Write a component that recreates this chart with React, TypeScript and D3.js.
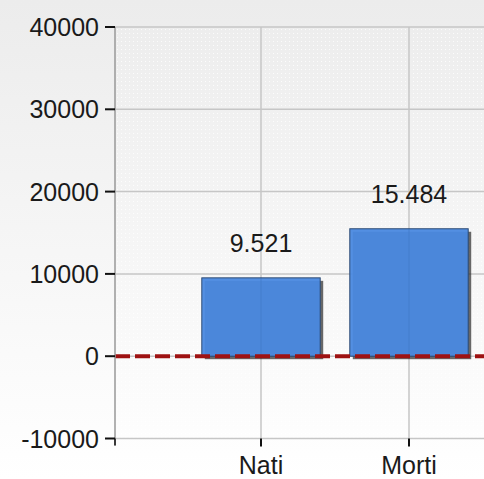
import React from 'react'
import * as d3 from 'd3'

const categories = ['Nati', 'Morti']
const values = [9521, 15484]
const yTicks = [-10000, 0, 10000, 20000, 30000, 40000]

const WIDTH = 484
const HEIGHT = 479

const itLocale = d3.formatLocale({ decimal: ',', thousands: '.', grouping: [3], currency: ['€', ''] })
const formatValue = itLocale.format(',d')

const FONT = '"Liberation Sans", Arial, sans-serif'

export default function App () {
    const y = d3.scaleLinear().domain([-10000, 40000]).range([438.5, 27])
    const x = d3.scaleBand<string>()
        .domain(categories)
        .range([187, 483])
        .paddingInner(0.2)
        .paddingOuter(0.1)

    const left = 115
    const top = y(40000)
    const bottom = y(-10000)
    const zero = y(0)
    const center = (c: string) => (x(c) as number) + x.bandwidth() / 2

    return (
        <svg
            width={WIDTH}
            height={HEIGHT}
            style={{ position: 'absolute', left: 0, top: 0, display: 'block' }}
            fontFamily={FONT}
        >
            <defs>
                <linearGradient id='bg' x1='0' y1='0' x2='0' y2='1'>
                    <stop offset='0' stopColor='#ececec' />
                    <stop offset='1' stopColor='#ffffff' />
                </linearGradient>
                <pattern id='dots' width='4' height='4' patternUnits='userSpaceOnUse'>
                    <rect x='1' y='1' width='1' height='1' fill='#ffffff' opacity='0.8' />
                </pattern>
            </defs>
            <rect width={WIDTH} height={HEIGHT} fill='url(#bg)' />
            <rect x={left} y={top} width={WIDTH - left} height={bottom - top} fill='url(#dots)' />

            {/* horizontal grid */}
            {yTicks.map(t => (
                <line key={'h' + t} x1={left} x2={WIDTH} y1={y(t)} y2={y(t)} stroke='#c6c6c6' strokeWidth={1.5} />
            ))}
            {/* vertical grid */}
            {categories.map(c => (
                <line key={'v' + c} x1={center(c)} x2={center(c)} y1={top} y2={bottom} stroke='#c6c6c6' strokeWidth={1.5} />
            ))}

            {/* bars */}
            {categories.map((c, i) => {
                const bx = x(c) as number
                const by = y(values[i])
                const bh = zero - by
                return (
                    <g key={'b' + c}>
                        <rect x={bx + 3} y={by + 3} width={x.bandwidth()} height={bh} fill='#2a2a2a' opacity={0.7} />
                        <rect x={bx} y={by} width={x.bandwidth()} height={bh} fill='#4a89e0' fillOpacity={0.95} stroke='#2c4a74' strokeWidth={1} />
                        <line x1={center(c)} x2={center(c)} y1={by} y2={zero} stroke='#3a6cb4' strokeWidth={1} opacity={0.35} />
                    </g>
                )
            })}

            {/* value labels */}
            {categories.map((c, i) => (
                <text
                    key={'l' + c}
                    x={center(c)}
                    y={y(values[i]) - 26}
                    textAnchor='middle'
                    fontSize={25}
                    fill='#1a1a1a'
                >
                    {formatValue(values[i])}
                </text>
            ))}

            {/* zero line */}
            <line x1={left} x2={WIDTH} y1={zero} y2={zero} stroke='#9e1212' strokeWidth={4} strokeDasharray='15 5' />

            {/* y axis */}
            <line x1={left} x2={left} y1={top} y2={bottom + 7} stroke='#999' strokeWidth={1.5} />
            <line x1={left} x2={left} y1={bottom} y2={bottom + 7} stroke='#111' strokeWidth={1.5} />
            {yTicks.map(t => (
                <g key={'t' + t}>
                    <line x1={left - 10} x2={left} y1={y(t)} y2={y(t)} stroke='#111' strokeWidth={2} />
                    <text x={99} y={y(t) + 9} textAnchor='end' fontSize={25} fill='#1a1a1a'>{t}</text>
                </g>
            ))}

            {/* x axis */}
            {categories.map(c => (
                <g key={'x' + c}>
                    <line x1={center(c)} x2={center(c)} y1={bottom} y2={bottom + 8} stroke='#111' strokeWidth={2} />
                    <text x={center(c)} y={474} textAnchor='middle' fontSize={25} fill='#1a1a1a'>{c}</text>
                </g>
            ))}
        </svg>
    )
}
